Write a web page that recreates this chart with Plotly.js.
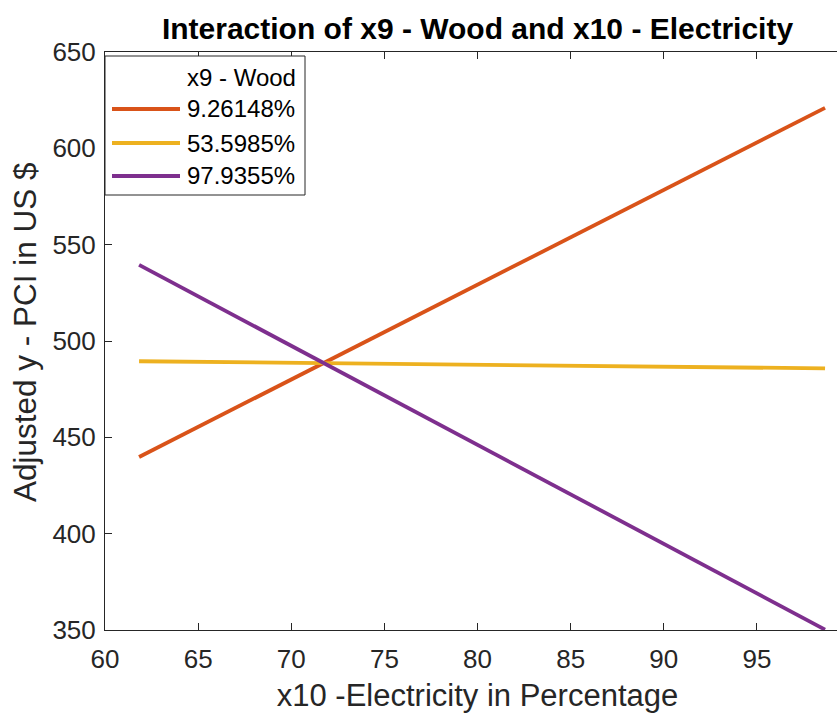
<!DOCTYPE html>
<html>
<head>
<meta charset="utf-8">
<script src="https://cdn.plot.ly/plotly-3.0.1.min.js"></script>
<style>
html, body { margin: 0; padding: 0; background: #fff; overflow: hidden; width: 837px; height: 713px; }
#chart { width: 870px; height: 713px; }
</style>
</head>
<body>
<div id="chart"></div>
<script>
// ---- data ----
const x10Values = [61.83, 98.66];
const seriesNames = ["9.26148%", "53.5985%", "97.9355%"];
const seriesLow = [439.8, 621.0];
const seriesMid = [489.5, 485.8];
const seriesHigh = [539.5, 350.2];
const legendTitle = "x9 - Wood";
const xTicks = [60, 65, 70, 75, 80, 85, 90, 95];
const yTicks = [350, 400, 450, 500, 550, 600, 650];

const colors = ["#D95319", "#EDB120", "#7E2F8E"];
const seriesY = [seriesLow, seriesMid, seriesHigh];

// ---- layout geometry ----
const W = 870, H = 713;
const M = { l: 105, r: 20, t: 52, b: 83 };
const PW = W - M.l - M.r, PH = H - M.t - M.b;
const px = v => (v - M.l) / PW;        // pixel x -> paper
const py = v => (H - M.b - v) / PH;    // pixel y -> paper

const FONT = "Liberation Sans, Arial, Helvetica, sans-serif";
const ink = "#262626";

const traces = seriesY.map((ys, i) => ({
  type: "scatter", mode: "lines",
  x: x10Values, y: ys, name: seriesNames[i],
  line: { color: colors[i], width: 3.8 },
  showlegend: false, hoverinfo: "skip"
}));

// custom MATLAB-style legend
const shapes = [{
  type: "rect", xref: "paper", yref: "paper",
  x0: px(105), x1: px(305), y0: py(195), y1: py(56),
  fillcolor: "#ffffff", line: { color: ink, width: 1 }, layer: "above"
}];
const annotations = [{
  xref: "paper", yref: "paper", x: px(185), y: py(77),
  xanchor: "left", yanchor: "middle", showarrow: false,
  text: legendTitle, font: { family: FONT, size: 24, color: "#000" }
}, {
  // y-axis title
  xref: "paper", yref: "paper", x: px(25), y: py(332),
  xanchor: "center", yanchor: "middle", showarrow: false, textangle: -90,
  text: "Adjusted y - PCI in US $", font: { family: FONT, size: 31.5, color: ink }
}];
const rowY = [109, 143, 176];
seriesNames.forEach((n, i) => {
  shapes.push({
    type: "line", xref: "paper", yref: "paper",
    x0: px(112), x1: px(180), y0: py(rowY[i]), y1: py(rowY[i]),
    line: { color: colors[i], width: 3.8 }, layer: "above"
  });
  annotations.push({
    xref: "paper", yref: "paper", x: px(185), y: py(rowY[i]),
    xanchor: "left", yanchor: "middle", showarrow: false,
    text: n, font: { family: FONT, size: 24, color: "#000" }
  });
});

const layout = {
  width: W, height: H,
  margin: M,
  paper_bgcolor: "#ffffff", plot_bgcolor: "#ffffff",
  showlegend: false,
  font: { family: FONT, color: ink },
  title: {
    text: "<b>Interaction of x9 - Wood and x10 - Electricity</b>",
    font: { family: FONT, size: 30, color: "#000" },
    x: 0.5, xref: "paper", y: 1 - 28 / H, yanchor: "middle"
  },
  xaxis: {
    range: [60, 100], tickvals: xTicks, ticktext: xTicks.map(String),
    ticks: "inside", ticklen: 7, tickwidth: 1, tickcolor: ink,
    showline: true, linecolor: ink, linewidth: 1, mirror: "ticks",
    showgrid: false, zeroline: false, ticklabelstandoff: 6,
    tickfont: { family: FONT, size: 26, color: ink },
    title: { text: "x10 -Electricity in Percentage", font: { family: FONT, size: 31, color: ink }, standoff: 11 }
  },
  yaxis: {
    range: [350, 650], tickvals: yTicks, ticktext: yTicks.map(String),
    ticks: "inside", ticklen: 7, tickwidth: 1, tickcolor: ink,
    showline: true, linecolor: ink, linewidth: 1, mirror: "ticks",
    showgrid: false, zeroline: false, ticklabelstandoff: 3,
    tickfont: { family: FONT, size: 26, color: ink }
  },
  shapes: shapes,
  annotations: annotations
};

Plotly.newPlot("chart", traces, layout, { staticPlot: true, displayModeBar: false });
</script>
</body>
</html>
